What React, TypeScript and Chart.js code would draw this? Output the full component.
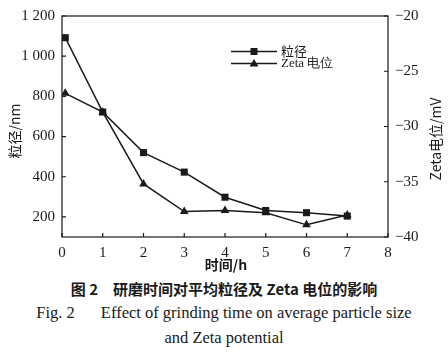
import React, { useEffect, useRef } from "react";
import { Chart, registerables } from "chart.js";

Chart.register(...registerables);

const timeHours = [0.08, 1, 2, 3, 4, 5, 6, 7];
const particleSize = [1092, 722, 520, 423, 298, 232, 221, 204];
const zetaPotential = [-27.0, -28.7, -35.2, -37.7, -37.6, -37.8, -38.9, -38.0];
const xTicks = [0, 1, 2, 3, 4, 5, 6, 7, 8];
const leftTicks = [200, 400, 600, 800, 1000, 1200];
const rightTicks = [-40, -35, -30, -25, -20];
const seriesNames = ["粒径", "Zeta 电位"];
const xTitle = "时间/h";
const leftTitle = "粒径/nm";
const rightTitle = "Zeta电位/mV";
const captionCn = "图 2　研磨时间对平均粒径及 Zeta 电位的影响";
const captionEn1a = "Fig. 2";
const captionEn1b = "Effect of grinding time on average particle size";
const captionEn2 = "and Zeta potential";

const INK = "#1a1a1a";
const SERIF = '"Liberation Serif", "DejaVu Serif", serif';
const CJK = '"Noto Sans CJK SC", sans-serif';

const fmtLeft = (v: number) => {
  const s = String(v);
  return s.length > 3 ? s.slice(0, s.length - 3) + " " + s.slice(-3) : s;
};
const fmtRight = (v: number) => (v < 0 ? "\u2212" + Math.abs(v) : String(v));

const framePlugin = {
  id: "frame",
  afterDraw(chart: any) {
    const { ctx, chartArea: a, scales } = chart;
    ctx.save();
    ctx.strokeStyle = INK;
    ctx.lineWidth = 1.2;
    ctx.strokeRect(a.left, a.top, a.right - a.left, a.bottom - a.top);
    const L = 4;
    ctx.beginPath();
    for (const v of xTicks) {
      const x = scales.x.getPixelForValue(v);
      ctx.moveTo(x, a.bottom);
      ctx.lineTo(x, a.bottom - L);
    }
    for (const v of leftTicks) {
      const y = scales.y.getPixelForValue(v);
      ctx.moveTo(a.left, y);
      ctx.lineTo(a.left + L, y);
    }
    for (const v of rightTicks) {
      const y = scales.y1.getPixelForValue(v);
      ctx.moveTo(a.right, y);
      ctx.lineTo(a.right - L, y);
    }
    ctx.stroke();

    ctx.fillStyle = INK;
    ctx.textAlign = "center";
    ctx.textBaseline = "middle";
    ctx.font = `bold 14px ${CJK}`;
    ctx.fillText(xTitle, (a.left + a.right) / 2 + 1, a.bottom + 28);
    ctx.save();
    ctx.translate(15, 131);
    ctx.rotate(-Math.PI / 2);
    ctx.font = `14px ${CJK}`;
    ctx.fillText(leftTitle, 0, 0);
    ctx.restore();
    ctx.save();
    ctx.translate(436, 139);
    ctx.rotate(-Math.PI / 2);
    ctx.font = `14px ${CJK}`;
    ctx.fillText(rightTitle, 0, 0);
    ctx.restore();

    const lx0 = 231, lx1 = 277, rows = [51.5, 63.5];
    const styles = ["rect", "triangle"];
    rows.forEach((ry, i) => {
      ctx.strokeStyle = INK;
      ctx.lineWidth = 1.5;
      ctx.beginPath();
      ctx.moveTo(lx0, ry);
      ctx.lineTo(lx1, ry);
      ctx.stroke();
      ctx.fillStyle = INK;
      ctx.beginPath();
      const cx = (lx0 + lx1) / 2;
      if (styles[i] === "rect") {
        ctx.rect(cx - 3.5, ry - 3.5, 7, 7);
      } else {
        ctx.moveTo(cx, ry - 4.5);
        ctx.lineTo(cx + 4.5, ry + 3);
        ctx.lineTo(cx - 4.5, ry + 3);
        ctx.closePath();
      }
      ctx.fill();
      ctx.textAlign = "left";
      ctx.font = i === 0 ? `13px ${CJK}` : `13px ${SERIF}`;
      ctx.fillText(seriesNames[i], 281, ry);
    });
    ctx.restore();
  },
};

export default function App() {
  const ref = useRef<HTMLCanvasElement>(null);
  useEffect(() => {
    if (!ref.current) return;
    const chart = new Chart(ref.current, {
      type: "line",
      data: {
        datasets: [
          {
            label: seriesNames[0],
            data: timeHours.map((x, i) => ({ x, y: particleSize[i] })),
            yAxisID: "y",
            borderColor: INK,
            backgroundColor: INK,
            borderWidth: 1.5,
            pointStyle: "rect",
            pointRadius: 5,
            pointBorderWidth: 0,
          },
          {
            label: seriesNames[1],
            data: timeHours.map((x, i) => ({ x, y: zetaPotential[i] })),
            yAxisID: "y1",
            borderColor: INK,
            backgroundColor: INK,
            borderWidth: 1.5,
            pointStyle: "triangle",
            pointRadius: 5,
            pointBorderWidth: 0,
          },
        ],
      },
      options: {
        animation: false,
        responsive: false,
        layout: { padding: { top: 12, left: 0, right: 0, bottom: 0 } },
        plugins: { legend: { display: false }, tooltip: { enabled: false } },
        scales: {
          x: {
            type: "linear",
            min: 0,
            max: 8,
            afterBuildTicks: (s: any) => {
              s.ticks = xTicks.map((v) => ({ value: v }));
            },
            afterFit: (s: any) => {
              s.height = 38;
            },
            grid: { display: false, drawTicks: false },
            border: { display: false },
            ticks: { color: INK, padding: 7, font: { family: SERIF, size: 15 } },
          },
          y: {
            type: "linear",
            position: "left",
            min: 100,
            max: 1200,
            afterBuildTicks: (s: any) => {
              s.ticks = leftTicks.map((v) => ({ value: v }));
            },
            afterFit: (s: any) => {
              s.width = 62;
            },
            grid: { display: false, drawTicks: false },
            border: { display: false },
            ticks: {
              color: INK,
              padding: 7,
              font: { family: SERIF, size: 15 },
              callback: (v: any) => fmtLeft(Number(v)),
            },
          },
          y1: {
            type: "linear",
            position: "right",
            min: -40,
            max: -20,
            afterBuildTicks: (s: any) => {
              s.ticks = rightTicks.map((v) => ({ value: v }));
            },
            afterFit: (s: any) => {
              s.width = 60;
            },
            grid: { display: false, drawTicks: false },
            border: { display: false },
            ticks: {
              color: INK,
              padding: 7,
              font: { family: SERIF, size: 15 },
              callback: (v: any) => fmtRight(Number(v)),
            },
          },
        },
      },
      plugins: [framePlugin],
    });
    return () => chart.destroy();
  }, []);

  const line = (top: number, content: React.ReactNode, style: React.CSSProperties) => (
    <div
      style={{
        position: "absolute",
        left: 0,
        width: 448,
        top: top - 10,
        height: 20,
        lineHeight: "20px",
        textAlign: "center",
        whiteSpace: "pre",
        color: INK,
        ...style,
      }}
    >
      {content}
    </div>
  );

  return (
    <div style={{ position: "fixed", left: 0, top: 0, width: 448, height: 356, background: "#fff", overflow: "hidden" }}>
      <canvas ref={ref} width={448} height={275} style={{ position: "absolute", left: 0, top: 0, width: 448, height: 275 }} />
      {line(289, captionCn, { fontFamily: CJK, fontWeight: "bold", fontSize: 15 })}
      {line(
        313,
        <>
          <span>{captionEn1a}</span>
          <span style={{ display: "inline-block", width: 26 }} />
          <span>{captionEn1b}</span>
        </>,
        { fontFamily: SERIF, fontSize: 16.5 }
      )}
      {line(338, captionEn2, { fontFamily: SERIF, fontSize: 16.5 })}
    </div>
  );
}
